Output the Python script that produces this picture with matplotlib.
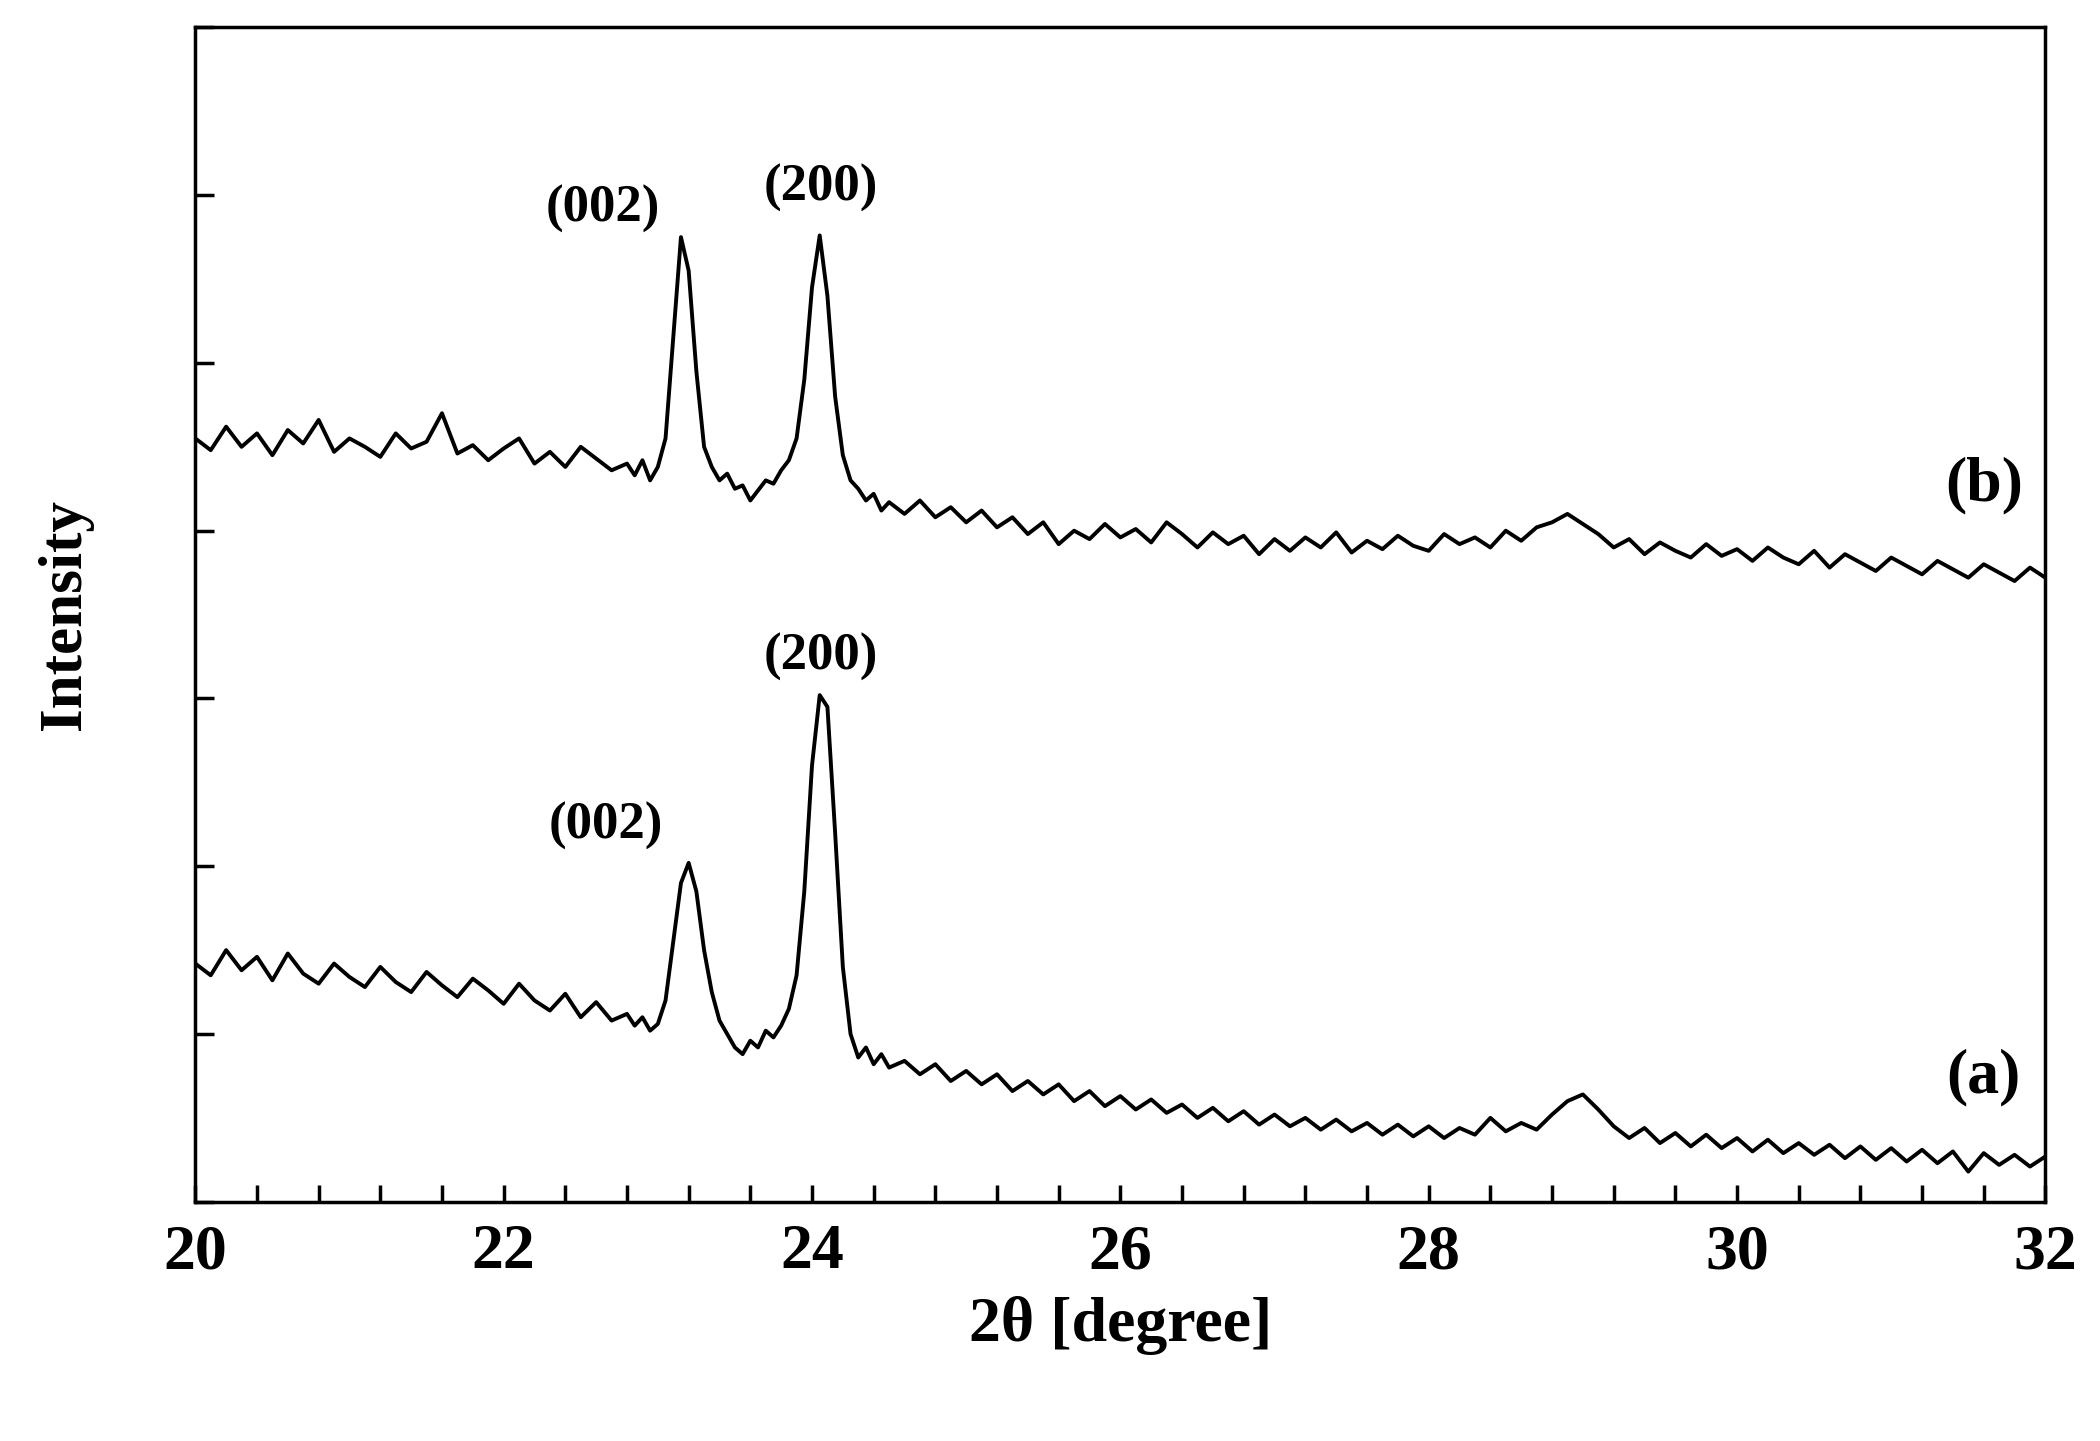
import numpy as np
import matplotlib.pyplot as plt
from matplotlib.ticker import MultipleLocator

# 2theta grid: coarse, fine around the peaks, coarse
two_theta = np.concatenate([
    np.round(np.arange(20.0, 22.71, 0.1), 2),
    np.round(np.arange(22.8, 24.51, 0.05), 2),
    np.round(np.arange(24.6, 32.01, 0.1), 2),
])

intensity_b = [
    4.55, 4.48, 4.62, 4.50, 4.58, 4.45, 4.60, 4.52, 4.66, 4.47, 4.55, 4.50, 4.44, 4.58,
    4.49, 4.53, 4.70, 4.46, 4.51, 4.42, 4.49, 4.55, 4.40, 4.47, 4.38, 4.50, 4.43, 4.36,
    4.40, 4.33, 4.42, 4.30, 4.38, 4.55, 5.15, 5.75, 5.55, 4.95, 4.50, 4.38, 4.30, 4.34,
    4.25, 4.27, 4.18, 4.24, 4.30, 4.28, 4.36, 4.42, 4.55, 4.90, 5.45, 5.76, 5.40, 4.80,
    4.45, 4.30, 4.25, 4.18, 4.22, 4.12, 4.17,
    4.10, 4.18, 4.08, 4.14, 4.05, 4.12, 4.02, 4.08, 3.98, 4.05, 3.92, 4.00, 3.95, 4.04,
    3.96, 4.01, 3.93, 4.05, 3.98, 3.90, 3.99, 3.92, 3.97, 3.86, 3.95, 3.88, 3.96, 3.90,
    3.99, 3.87, 3.94, 3.89, 3.97, 3.91, 3.88, 3.98, 3.92, 3.96, 3.90, 4.00, 3.94, 4.02,
    4.05, 4.10, 4.04, 3.98, 3.90, 3.95, 3.86, 3.93, 3.88, 3.84, 3.92, 3.85, 3.89, 3.82,
    3.90, 3.84, 3.80, 3.88, 3.78, 3.86, 3.81, 3.76, 3.84, 3.79, 3.74, 3.82, 3.77, 3.72,
    3.80, 3.75, 3.70, 3.78, 3.72,
]

intensity_a = [
    1.42, 1.35, 1.50, 1.38, 1.46, 1.32, 1.48, 1.36, 1.30, 1.42, 1.34, 1.28, 1.40, 1.31,
    1.25, 1.37, 1.29, 1.22, 1.33, 1.26, 1.18, 1.30, 1.20, 1.14, 1.24, 1.10, 1.19, 1.08,
    1.12, 1.05, 1.10, 1.02, 1.06, 1.20, 1.55, 1.90, 2.02, 1.85, 1.50, 1.25, 1.08, 1.00,
    0.92, 0.88, 0.96, 0.92, 1.02, 0.98, 1.05, 1.15, 1.35, 1.85, 2.60, 3.02, 2.95, 2.20,
    1.40, 1.00, 0.86, 0.92, 0.82, 0.88, 0.80,
    0.84, 0.76, 0.82, 0.72, 0.78, 0.70, 0.76, 0.66, 0.72, 0.64, 0.70, 0.60, 0.66, 0.57,
    0.63, 0.55, 0.61, 0.53, 0.58, 0.50, 0.56, 0.48, 0.54, 0.46, 0.52, 0.45, 0.50, 0.43,
    0.49, 0.42, 0.47, 0.40, 0.46, 0.39, 0.45, 0.38, 0.44, 0.40, 0.50, 0.42, 0.47, 0.43,
    0.52, 0.60, 0.64, 0.55, 0.45, 0.38, 0.44, 0.35, 0.41, 0.33, 0.40, 0.32, 0.38, 0.30,
    0.37, 0.29, 0.35, 0.28, 0.34, 0.26, 0.33, 0.25, 0.32, 0.24, 0.31, 0.23, 0.30, 0.18,
    0.29, 0.22, 0.28, 0.21, 0.27,
]

# peak labels: (text, x, y)
peak_labels = [
    ("(002)", 22.64, 5.92), ("(200)", 24.06, 6.04),
    ("(002)", 22.66, 2.24), ("(200)", 24.06, 3.25),
]
curve_labels = [("(b)", 31.6, 4.27), ("(a)", 31.6, 0.74)]

plt.rcParams['font.family'] = ['Liberation Serif', 'DejaVu Serif']
plt.rcParams['font.weight'] = 'bold'

fig = plt.figure(figsize=(21, 14.41), dpi=100)
ax = fig.add_axes([0.093, 0.166, 0.881, 0.815])

ax.plot(two_theta, intensity_b, color="black", lw=2.8)
ax.plot(two_theta, intensity_a, color="black", lw=2.8)

for txt, x, y in peak_labels:
    ax.text(x, y, txt, ha="center", va="center", fontsize=38, fontweight="bold")
for txt, x, y in curve_labels:
    ax.text(x, y, txt, ha="center", va="center", fontsize=46, fontweight="bold")

ax.set_xlim(20, 32)
ax.set_ylim(0, 7)
ax.xaxis.set_major_locator(MultipleLocator(2))
ax.xaxis.set_minor_locator(MultipleLocator(0.4))
ax.yaxis.set_major_locator(MultipleLocator(1))
ax.set_yticklabels([])
ax.tick_params(axis="both", which="both", direction="in", width=2.5, length=12)
ax.tick_params(axis="y", left=True, right=False, length=14)
ax.tick_params(axis="x", top=False, labelsize=46, pad=16)
for lbl in ax.get_xticklabels():
    lbl.set_fontweight("bold")
for sp in ax.spines.values():
    sp.set_linewidth(2.5)

ax.set_xlabel("2θ [degree]", fontsize=46, fontweight="bold", labelpad=10)
ax.set_ylabel("Intensity", fontsize=44, fontweight="bold", labelpad=70)

plt.savefig("out.png", dpi=100)
